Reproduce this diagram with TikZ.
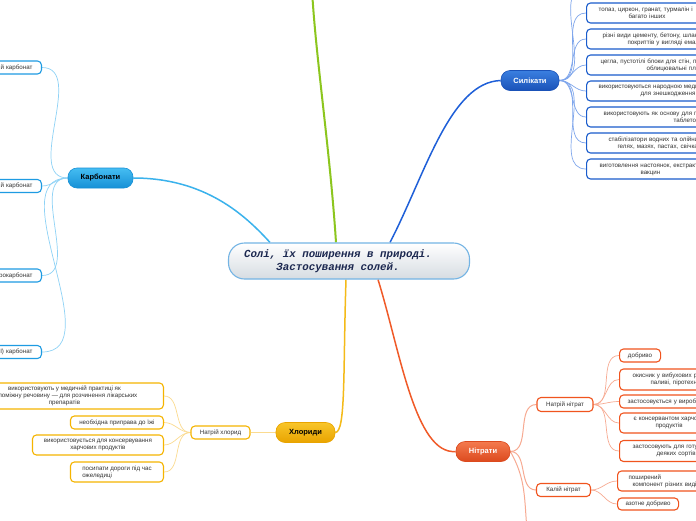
\documentclass[tikz,border=0pt]{standalone}
\usepackage{fontspec}
\setmainfont{Liberation Sans}
\setmonofont{Liberation Mono}
\pgfdeclarelayer{bg}
\pgfsetlayers{bg,main}
\definecolor{txt}{HTML}{333333}
\definecolor{cbA}{HTML}{45BDF2}
\definecolor{cbB}{HTML}{1690D6}
\definecolor{cbL}{HTML}{1E9BE2}
\definecolor{cbC}{HTML}{8ED2F6}
\definecolor{cbM}{HTML}{3AB2EC}
\definecolor{sbA}{HTML}{3A7FE0}
\definecolor{sbB}{HTML}{1A52B8}
\definecolor{sbL}{HTML}{1A5CCC}
\definecolor{sbC}{HTML}{7FA6EC}
\definecolor{sbM}{HTML}{1E5FD8}
\definecolor{hbA}{HTML}{F8C52A}
\definecolor{hbB}{HTML}{E9A400}
\definecolor{hbL}{HTML}{F5B400}
\definecolor{hbC}{HTML}{FBDB90}
\definecolor{hbM}{HTML}{F4BA18}
\definecolor{nbA}{HTML}{F47A4E}
\definecolor{nbB}{HTML}{DC4A1E}
\definecolor{nbL}{HTML}{F0541E}
\definecolor{nbC}{HTML}{F7AA92}
\definecolor{nbM}{HTML}{F05A28}
\definecolor{grn}{HTML}{8CC61E}
\definecolor{rootB}{HTML}{74B4E4}
\definecolor{rootT}{HTML}{1C2850}
\definecolor{rootD}{HTML}{D6DCE2}
\tikzset{
  leaf/.style={draw, rounded corners=4pt, line width=1.1pt, fill=white,
    font=\fontsize{6.2}{7.2}\selectfont, text=txt, inner ysep=2pt, minimum height=13pt},
  branch/.style={draw, rounded corners=9pt, minimum height=20pt, line width=0.6pt,
    font=\fontsize{7.5}{9}\selectfont\bfseries},
  thin/.style={line width=0.7pt},
  main/.style={line width=1.5pt},
}
\begin{document}
\begin{tikzpicture}[x=1pt,y=-1pt]
\useasboundingbox (0,0) rectangle (696,520);
\clip (0,0) rectangle (696,520);

% root
\node[draw=rootB, line width=1.1pt, rounded corners=16pt, top color=white, bottom color=rootD,
  minimum width=241pt, minimum height=36pt, align=center, text=rootT,
  font=\fontsize{10.8}{12.5}\selectfont\ttfamily\bfseries\itshape] (root) at (349,261)
  {Солі, їх поширення в природі.\hspace*{22pt}\\Застосування солей.\hspace*{22pt}};

% branches
\node[branch, draw=cbB, top color=cbA, bottom color=cbB, minimum width=65pt, text=black] (carb) at (100.5,178) {Карбонати};
\node[branch, draw=sbB, top color=sbA, bottom color=sbB, minimum width=58pt, text=white] (sil) at (530,80.5) {Силікати};
\node[branch, draw=hbB, top color=hbA, bottom color=hbB, minimum width=59pt, text=black] (chl) at (305.5,432.5) {Хлориди};
\node[branch, draw=nbB, top color=nbA, bottom color=nbB, minimum width=54pt, text=white] (nit) at (483,451.5) {Нітрати};

\coordinate (green) at (312,-10);
\coordinate (nbot) at (527,530);

% carbonate leaves
\node[leaf, draw=cbL, anchor=east, text width=70pt, align=right, inner xsep=9pt] (c1) at (42,67.5) {й карбонат};
\node[leaf, draw=cbL, anchor=east, text width=70pt, align=right, inner xsep=9pt] (c2) at (42,186) {й карбонат};
\node[leaf, draw=cbL, anchor=east, text width=70pt, align=right, inner xsep=9pt] (c3) at (42,275.5) {рокарбонат};
\node[leaf, draw=cbL, anchor=east, text width=70pt, align=right, inner xsep=9pt] (c4) at (42,352) {І) карбонат};

% silicate leaves
\node[leaf, draw=sbL, anchor=west, text width=190pt, align=left, inner xsep=12pt, minimum height=20pt] (s1) at (586,-13) {};
\node[leaf, draw=sbL, anchor=west, text width=190pt, align=left, inner xsep=12pt, minimum height=20pt] (s2) at (586,13)
  {топаз, циркон, гранат, турмалін і\\\hspace*{30pt}багато інших};
\node[leaf, draw=sbL, anchor=west, text width=190pt, align=left, inner xsep=16pt, minimum height=20pt] (s3) at (586,39)
  {різні види цементу, бетону, шлаку\\\hspace*{25pt}покриттів у вигляді емалей};
\node[leaf, draw=sbL, anchor=west, text width=190pt, align=left, inner xsep=14pt, minimum height=20pt] (s4) at (586,65)
  {цегла, пустотілі блоки для стін, панелі\\\hspace*{46pt}облицювальні плити};
\node[leaf, draw=sbL, anchor=west, text width=190pt, align=left, inner xsep=12pt, minimum height=20pt] (s5) at (586,91)
  {використовуються народною медициною\\\hspace*{42pt}для знешкодження};
\node[leaf, draw=sbL, anchor=west, text width=190pt, align=left, inner xsep=17pt, minimum height=20pt] (s6) at (586,117)
  {використовують як основу для приготування\\\hspace*{70pt}таблеток};
\node[leaf, draw=sbL, anchor=west, text width=190pt, align=left, inner xsep=22pt, minimum height=20pt] (s7) at (586,143)
  {стабілізатори водних та олійних\\\hspace*{9pt}гелях, мазях, пастах, свічках};
\node[leaf, draw=sbL, anchor=west, text width=190pt, align=left, inner xsep=13pt, minimum height=20pt] (s8) at (586,169)
  {виготовлення настоянок, екстрактів\\\hspace*{41pt}вакцин};

% chloride leaves
\node[leaf, draw=hbL, minimum width=59pt] (nc) at (220.5,432.5) {Натрій хлорид};
\node[leaf, draw=hbL, anchor=east, align=center, minimum width=198pt, minimum height=26pt] (h1) at (164,396)
  {використовують у медичній практиці як\\допоміжну речовину — для розчинення лікарських\\препаратів};
\node[leaf, draw=hbL, anchor=east, minimum width=93pt] (h2) at (164,422.5) {необхідна приправа до їжі};
\node[leaf, draw=hbL, anchor=east, align=center, minimum width=131pt, minimum height=20pt] (h3) at (164,445)
  {використовується для консервування\\харчових продуктів};
\node[leaf, draw=hbL, anchor=east, align=left, minimum width=93pt, minimum height=20pt] (h4) at (164,472)
  {посипати дороги під час\\ожеледиці};

% nitrate leaves
\node[leaf, draw=nbL, minimum width=56pt, minimum height=14pt] (nn) at (565,404.5) {Натрій нітрат};
\node[leaf, draw=nbL, minimum width=54pt] (kn) at (563.5,490) {Калій нітрат};
\node[leaf, draw=nbL, anchor=west, minimum width=41pt] (n1) at (619,355.5) {добриво};
\node[leaf, draw=nbL, anchor=west, text width=150pt, align=left, inner xsep=13pt, minimum height=21pt] (n2) at (619,379.5)
  {окисник у вибухових речовинах\\\hspace*{18pt}паливі, піротехніці};
\node[leaf, draw=nbL, anchor=west, text width=150pt, align=left, inner xsep=8pt] (n3) at (619,401.5)
  {застосовується у виробництві};
\node[leaf, draw=nbL, anchor=west, text width=150pt, align=left, inner xsep=14pt, minimum height=20pt] (n4) at (619,423)
  {є консервантом харчових\\\hspace*{22pt}продуктів};
\node[leaf, draw=nbL, anchor=west, text width=150pt, align=left, inner xsep=13pt, minimum height=21pt] (n5) at (619,451)
  {застосовують для готування\\\hspace*{24pt}деяких сортів};
\node[leaf, draw=nbL, anchor=west, text width=150pt, align=left, inner xsep=11pt, minimum height=20pt] (k1) at (617,481)
  {поширений\\\hspace*{4pt}компонент різних видів};
\node[leaf, draw=nbL, anchor=west, minimum width=61pt, minimum height=12pt] (k2) at (617,504) {азотне добриво};

\begin{pgfonlayer}{bg}
  \fill[white] (0,0) rectangle (696,520);
  % main branches
  \draw[main, cbM] (carb.east) .. controls (205,178) and (245,215) .. ([xshift=-79pt]root.north);
  \draw[line width=2pt, grn] ([xshift=-13pt]root.north) .. controls (330,150) and (316,60) .. (green);
  \draw[main, sbM] ([xshift=41pt]root.north) .. controls (425,175) and (450,82) .. (sil.west);
  \draw[main, hbM] ([xshift=-3pt]root.south) .. controls (343,370) and (346,432) .. (chl.east);
  \draw[main, nbM] ([xshift=29pt]root.south) .. controls (400,350) and (415,455) .. (nit.west);
  % carbonate sub
  \foreach \n in {c1,c2,c3,c4} \draw[thin, cbC] (carb.west) to[out=180,in=0] (\n.east);
  % silicate sub
  \foreach \n in {s1,s2,s3,s4,s5,s6,s7,s8} \draw[thin, sbC] (sil.east) to[out=0,in=180] (\n.west);
  % chloride sub
  \draw[line width=1pt, hbC] (chl.west) -- (nc.east);
  \foreach \n in {h1,h2,h3,h4} \draw[thin, hbC] (nc.west) to[out=180,in=0] (\n.east);
  % nitrate sub
  \draw[line width=1pt, nbC] (nit.east) to[out=0,in=180] (nn.west);
  \draw[line width=1pt, nbC] (nit.east) to[out=0,in=180] (kn.west);
  \draw[line width=1pt, nbC] (nit.east) to[out=-60,in=95] (nbot);
  \foreach \n in {n1,n2,n3,n4,n5} \draw[thin, nbC] (nn.east) to[out=0,in=180] (\n.west);
  \foreach \n in {k1,k2} \draw[thin, nbC] (kn.east) to[out=0,in=180] (\n.west);
\end{pgfonlayer}
\end{tikzpicture}
\end{document}
